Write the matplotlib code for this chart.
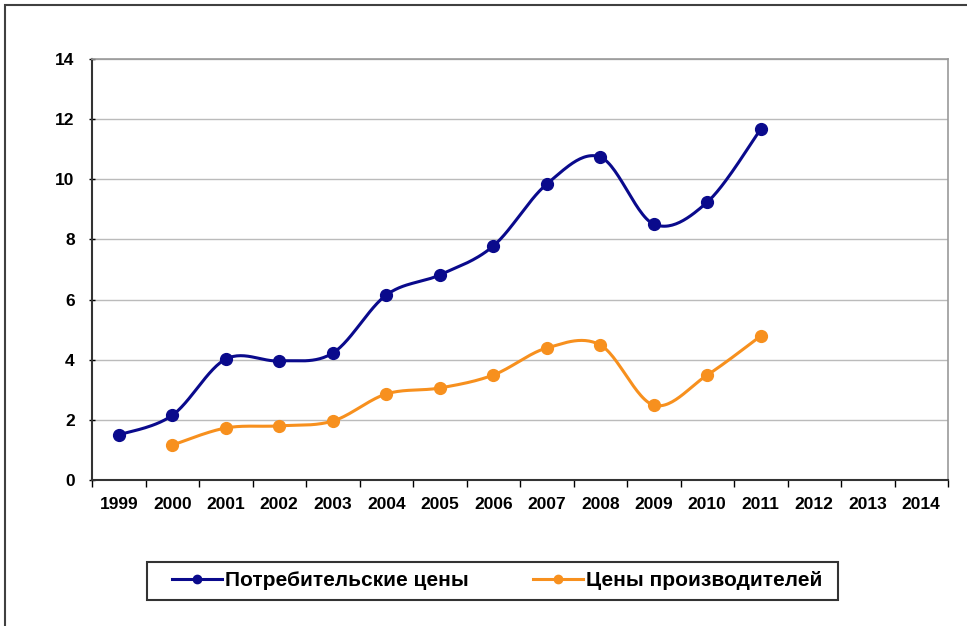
# Индексы цен: потребительские и производителей
import matplotlib.pyplot as plt
import matplotlib.patches as patches
import numpy as np

plt.rcParams['font.family'] = ['Liberation Sans Narrow', 'Liberation Sans', 'DejaVu Sans']

years = ['1999', '2000', '2001', '2002', '2003', '2004', '2005', '2006',
         '2007', '2008', '2009', '2010', '2011', '2012', '2013', '2014']

cons_years = ['1999', '2000', '2001', '2002', '2003', '2004', '2005',
              '2006', '2007', '2008', '2009', '2010', '2011']
cons_vals = [1.5, 2.15, 4.02, 3.96, 4.22, 6.15, 6.82, 7.78, 9.84, 10.74, 8.51, 9.24, 11.67]

prod_years = ['2000', '2001', '2002', '2003', '2004', '2005',
              '2006', '2007', '2008', '2009', '2010', '2011']
prod_vals = [1.16, 1.73, 1.8, 1.96, 2.86, 3.06, 3.49, 4.39, 4.49, 2.49, 3.49, 4.79]

labels = ['Потребительские цены', 'Цены производителей']
colors = ['#0a0a8c', '#f7901e']


def smooth(x, y, n=30):
    # сглаживание как в Excel (кубические Безье по соседним точкам)
    x = np.asarray(x, float)
    y = np.asarray(y, float)
    px = np.concatenate([[x[0]], x, [x[-1]]])
    py = np.concatenate([[y[0]], y, [y[-1]]])
    xs, ys = [], []
    t = np.linspace(0, 1, n)
    for i in range(len(x) - 1):
        p0 = np.array([px[i + 1], py[i + 1]])
        p3 = np.array([px[i + 2], py[i + 2]])
        c1 = p0 + (np.array([px[i + 2], py[i + 2]]) - np.array([px[i], py[i]])) / 6
        c2 = p3 - (np.array([px[i + 3], py[i + 3]]) - np.array([px[i + 1], py[i + 1]])) / 6
        b = ((1 - t) ** 3)[:, None] * p0 + (3 * (1 - t) ** 2 * t)[:, None] * c1 \
            + (3 * (1 - t) * t ** 2)[:, None] * c2 + (t ** 3)[:, None] * p3
        xs.extend(b[:, 0])
        ys.extend(b[:, 1])
    return np.array(xs), np.array(ys)


fig = plt.figure(figsize=(9.67, 6.26), dpi=100)
ax = fig.add_axes([92 / 967, 1 - 480 / 626, (948 - 92) / 967, (480 - 59) / 626])

# рамка области диаграммы
fig.patches.append(patches.Rectangle((5 / 967, -0.1), 1.2, 1.1 - 5 / 626,
                                     transform=fig.transFigure, fill=False,
                                     edgecolor='#404040', linewidth=1.5))
# рамка легенды
fig.patches.append(patches.Rectangle((147 / 967, 1 - 600 / 626), (838 - 147) / 967, 38 / 626,
                                     transform=fig.transFigure, fill=False,
                                     edgecolor='#333333', linewidth=1.5))

pos = {y: i for i, y in enumerate(years)}
series = [(cons_years, cons_vals), (prod_years, prod_vals)]
handles = []
for (yrs, vals), lab, col in zip(series, labels, colors):
    xv = [pos[y] for y in yrs]
    sx, sy = smooth(xv, vals)
    ax.plot(sx, sy, color=col, linewidth=2.2, zorder=3)
    ax.plot(xv, vals, 'o', color=col, markersize=8.5, zorder=4)
    h, = ax.plot([], [], '-o', color=col, linewidth=2.2, markersize=6, label=lab)
    handles.append(h)

ax.set_xlim(-0.5, len(years) - 0.5)
ax.set_ylim(0, 14)
ax.set_yticks(np.arange(0, 15, 2))
ax.set_xticks(np.arange(len(years)))
ax.set_xticklabels(years, fontsize=12.5, fontweight='bold')
ax.set_xticks(np.arange(len(years) + 1) - 0.5, minor=True)
ax.tick_params(axis='x', which='major', length=0, pad=12)
ax.tick_params(axis='x', which='minor', length=5, width=1, direction='out')
ax.tick_params(axis='y', length=5, width=1, direction='inout', labelsize=12.5, pad=10)
for t in ax.get_yticklabels():
    t.set_fontweight('bold')
ax.grid(axis='y', color='#bbbbbb', linewidth=1)
ax.set_axisbelow(True)

for side in ['top', 'right']:
    ax.spines[side].set_color('#999999')
    ax.spines[side].set_linewidth(1.2)
for side in ['left', 'bottom']:
    ax.spines[side].set_color('#333333')
    ax.spines[side].set_linewidth(1.5)

leg = fig.legend(handles=handles, loc='center', mode='expand',
                 bbox_to_anchor=(172 / 967, 1 - 600 / 626, (822 - 172) / 967, 38 / 626),
                 ncol=2, frameon=False,
                 prop={'weight': 'bold', 'size': 15}, handlelength=2.4,
                 borderpad=0, borderaxespad=0, handletextpad=0.15)

fig.savefig('out.png', dpi=100)
